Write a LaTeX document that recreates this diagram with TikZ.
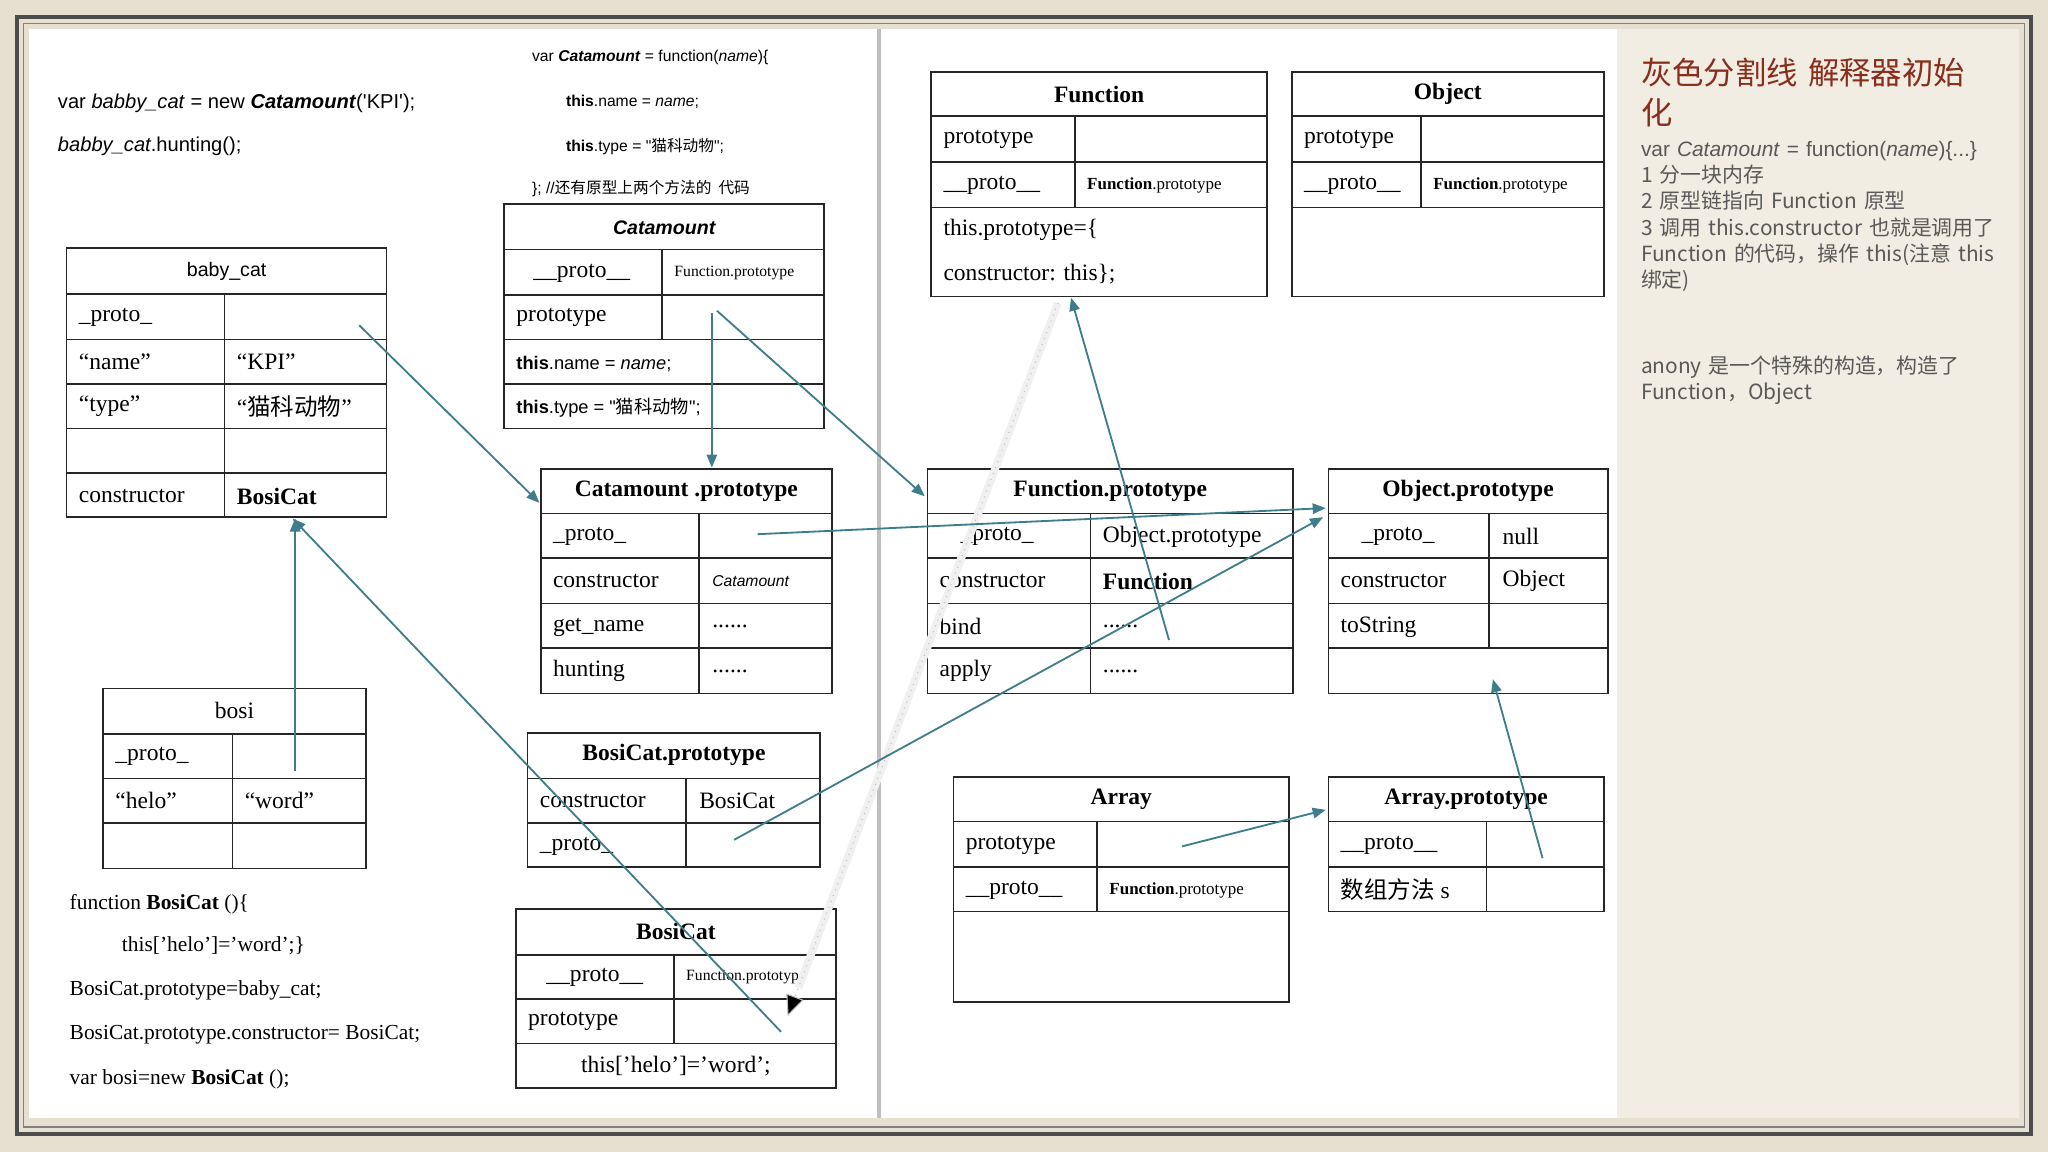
\documentclass[tikz,border=0pt]{standalone}
\usepackage{fontspec}
\setmainfont{Liberation Serif}
\newfontfamily\cjk{Noto Sans CJK SC}
\newfontfamily\sans{Liberation Sans}
\usetikzlibrary{arrows.meta,calc}
\definecolor{teal}{HTML}{3E7E8C}
\definecolor{bg}{HTML}{E6E0D0}
\definecolor{panel}{HTML}{F2EDE2}
\definecolor{ttl}{HTML}{8A2E1C}
\tikzset{
 tb/.style={draw=black!85,line width=0.6pt},
 c/.style={font=\fontsize{9}{10}\selectfont,inner sep=0pt,anchor=west},
 h/.style={font=\fontsize{9}{10}\selectfont\bfseries,inner sep=0pt},
 sm/.style={font=\fontsize{6}{7}\selectfont,inner sep=0pt,anchor=west},
 code/.style={font=\sans\fontsize{7.7}{9}\selectfont,inner sep=0pt,anchor=west},
 code2/.style={font=\fontsize{8.2}{9}\selectfont,inner sep=0pt,anchor=west},
 ar/.style={teal,line width=0.7pt,-{Triangle[length=5pt,width=4pt]}},
 note/.style={font=\cjk\fontsize{8}{10}\selectfont,inner sep=0pt,anchor=north west,text=black!65,text width=140pt,align=left},
}
\newcommand\grid[3]{% x1,x2,list of y
 \foreach \yy in {#3}{\draw[tb] (#1,\yy)--(#2,\yy);}}
\begin{document}
\begin{tikzpicture}[x=0.5pt,y=-0.5pt]
\useasboundingbox (0,0) rectangle (1568,882);
\fill[bg] (0,0) rectangle (1568,882);
\draw[black!70,line width=1.5pt] (13,13) rectangle (1555,868);
\draw[black!50,line width=0.6pt] (18,18) rectangle (1550,863);
\fill[white] (22,22) rectangle (1238,856);
\fill[panel] (1238,22) rectangle (1546,856);
\draw[black!25,line width=1.5pt] (673,22)--(673,856);

% ---- code top-left
\node[code] (c1) at (44,79) {var \textit{babby\_cat} = new \textbf{\textit{Catamount}}('KPI');};
\node[code] (c2) at (44,112) {\textit{babby\_cat}.hunting();};
\node[code,font=\sans\fontsize{6}{7}\selectfont] (c3) at (407,44) {var \textbf{\textit{Catamount}} = function(\textit{name})\{};
\node[code,font=\sans\fontsize{6}{7}\selectfont] (c4) at (433,78) {\textbf{this}.name = \textit{name};};
\node[code,font=\sans\fontsize{6}{7}\selectfont] (c5) at (433,112) {\textbf{this}.type = "{\cjk 猫科动物}";};
\node[code,font=\sans\fontsize{6}{7}\selectfont] (c6) at (407,144) {\}; //{\cjk 还有原型上两个方法的\ \ 代码}};

% ---- baby_cat
\draw[tb] (51,190) rectangle (296,396);
\grid{51}{296}{225,260,294,328,362}
\draw[tb] (172,225)--(172,396);
\node[h,font=\sans\fontsize{7.5}{9}\selectfont] (bch) at (173.5,208) {baby\_cat};
\node[c] (bc1) at (60,243) {\_proto\_};
\node[c] at (60,277) {“name”}; \node[c] at (181,277) {“KPI”};
\node[c] at (60,311) {“type”}; \node[c] at (181,311) {“{\cjk 猫科动物}”};
\node[c] at (60,380) {constructor}; \node[c,font=\fontsize{9}{10}\selectfont\bfseries] (bcc) at (181,380) {BosiCat};
\coordinate (bcb) at (226,397);
\coordinate (bcb2) at (224,397);
\coordinate (bcp) at (275,249);

% ---- Catamount
\draw[tb] (386,156) rectangle (631,328);
\grid{386}{631}{191,226,260,294}
\draw[tb] (507,191)--(507,260);
\node[h,font=\sans\fontsize{7.5}{9}\selectfont\bfseries\itshape] (cth) at (508.5,174) {Catamount};
\node[c] at (408,209) {\_\_proto\_\_}; \node[sm] at (516,209) {Function.prototype};
\node[c] at (395,243) {prototype};
\node[code,font=\sans\fontsize{7}{8}\selectfont] at (395,279) {\textbf{this}.name = \textit{name};};
\node[code,font=\sans\fontsize{7}{8}\selectfont] at (395,312) {\textbf{this}.type = "{\cjk 猫科动物}";};
\coordinate (ctp) at (545,240);
\coordinate (ctp2) at (549,238);

% ---- Catamount.prototype
\draw[tb] (414,359) rectangle (637,531);
\grid{414}{637}{393,427,462,496}
\draw[tb] (535,393)--(535,531);
\node[h] (cph) at (525.5,376) {Catamount .prototype};
\node[c] at (423,411) {\_proto\_};
\node[c] at (423,445) {constructor}; \node[sm,font=\sans\fontsize{6}{7}\selectfont\itshape] at (545,445) {Catamount};
\node[c] at (423,480) {get\_name}; \node[c] at (545,480) {......};
\node[c] at (423,514) {hunting}; \node[c] at (545,514) {......};
\coordinate (cpl) at (413,385);
\coordinate (cpt) at (545,358);
\coordinate (cpp) at (580,409);

% ---- bosi
\draw[tb] (79,527) rectangle (280,665);
\grid{79}{280}{562,596,630}
\draw[tb] (178,562)--(178,665);
\node[h,font=\fontsize{9}{10}\selectfont] (bsh) at (179.5,544) {bosi};
\node[c] at (88,579) {\_proto\_};
\node[c] at (88,613) {“helo”}; \node[c] at (187,613) {“word”};
\coordinate (bsp) at (226,590);

% ---- code bottom-left
\node[code2] at (53,692) {function \textbf{BosiCat} ()\{};
\node[code2] at (93,724) {this['helo']='word';\}};
\node[code2] at (53,758) {BosiCat.prototype=baby\_cat;};
\node[code2] at (53,792) {BosiCat.prototype.constructor= BosiCat;};
\node[code2] at (53,826) {var bosi=new \textbf{BosiCat} ();};

% ---- BosiCat.prototype
\draw[tb] (404,561) rectangle (628,664);
\grid{404}{628}{596,630}
\draw[tb] (525,596)--(525,664);
\node[h] (bpp) at (516,578) {BosiCat.prototype};
\node[c] at (413,613) {constructor}; \node[c] at (535,613) {BosiCat};
\node[c] at (413,648) {\_proto\_};
\coordinate (bpq) at (562,643);

% ---- BosiCat
\draw[tb] (395,696) rectangle (640,833);
\grid{395}{640}{731,765,799}
\draw[tb] (516,731)--(516,799);
\node[h] (bsc) at (517.5,713) {BosiCat};
\node[c] at (418,748) {\_\_proto\_\_}; \node[sm] at (525,748) {Function.prototype};
\node[c] at (404,782) {prototype};
\node[c,anchor=center] at (517.5,816) {this['helo']='word';};
\coordinate (bsq) at (598,790);

% ---- Function
\draw[tb] (713,55) rectangle (970,227);
\grid{713}{970}{89,124,159}
\draw[tb] (823,89)--(823,159);
\node[h] (fnh) at (841.5,72) {Function};
\node[c] at (722,107) {prototype};
\node[c] at (722,142) {\_\_proto\_\_}; \node[sm,font=\fontsize{6.5}{8}\selectfont] at (832,142) {\textbf{Function}.prototype};
\node[c] at (722,176) {this.prototype=\{};
\node[c] at (722,210) {constructor: this\};};
\coordinate (fnb) at (820,228);

% ---- Object
\draw[tb] (989,55) rectangle (1228,227);
\grid{989}{1228}{89,124,159}
\draw[tb] (1088,89)--(1088,159);
\node[h] (obh) at (1108.5,72) {Object};
\node[c] at (998,107) {prototype};
\node[c] at (998,142) {\_\_proto\_\_}; \node[sm,font=\fontsize{6.5}{8}\selectfont] at (1097,142) {\textbf{Function}.prototype};

% ---- Function.prototype
\draw[tb] (710,359) rectangle (990,531);
\grid{710}{990}{393,427,462,496}
\draw[tb] (835,393)--(835,531);
\node[h] (fph) at (850,376) {Function.prototype};
\node[c] at (735,411) {\_proto\_}; \node[c] at (844,411) {Object.prototype};
\node[c] at (719,445) {constructor}; \node[c,font=\fontsize{9}{10}\selectfont\bfseries] at (844,445) {Function};
\node[c] at (719,480) {bind}; \node[c] at (844,480) {......};
\node[c] at (719,514) {apply}; \node[c] at (844,514) {......};
\coordinate (fpl) at (708,380);
\coordinate (fpq) at (895,490);

% ---- Object.prototype
\draw[tb] (1017,359) rectangle (1231,531);
\grid{1017}{1231}{393,427,462,496}
\draw[tb] (1140,393)--(1140,496);
\node[h] (oph) at (1124,376) {Object.prototype};
\node[c] at (1042,411) {\_proto\_}; \node[c] at (1150,411) {null};
\node[c] at (1026,445) {constructor}; \node[c] at (1150,445) {Object};
\node[c] at (1026,480) {toString};
\coordinate (opl) at (1015,389);
\coordinate (opl2) at (1013,396);
\coordinate (opb) at (1143,520);

% ---- Array
\draw[tb] (730,595) rectangle (987,767);
\grid{730}{987}{629,664,698}
\draw[tb] (840,629)--(840,698);
\node[h] (arh) at (858.5,612) {Array};
\node[c] at (739,647) {prototype};
\node[c] at (739,682) {\_\_proto\_\_}; \node[sm,font=\fontsize{6.5}{8}\selectfont] at (849,682) {\textbf{Function}.prototype};
\coordinate (arp) at (905,648);

% ---- Array.prototype
\draw[tb] (1017,595) rectangle (1228,698);
\grid{1017}{1228}{629,664}
\draw[tb] (1138,629)--(1138,698);
\node[h] (aph) at (1122.5,612) {Array.prototype};
\node[c] at (1026,647) {\_\_proto\_\_};
\node[c] at (1026,681) {{\cjk 数组方法} s};
\coordinate (apl) at (1015,620);
\coordinate (apq) at (1181,657);

% ---- faint shadow arrow
\coordinate (sh1) at (810,232);
\coordinate (sh2) at (603,778);
\draw[black!6,line width=3pt] (sh1)--($(sh1)!0.96!(sh2)$);
\draw[black!25,line width=0.4pt,dotted,-{Triangle[length=8pt,width=7pt,fill=black]}] (sh1)--(sh2);

% ---- arrows
\draw[ar] (bcp)--(cpl);
\draw[ar] (ctp)--(cpt);
\draw[ar] (ctp2)--(fpl);
\draw[ar] (cpp)--(opl);
\draw[ar] (bsp)--(bcb);
\draw[ar] (bsq)--(bcb2);
\draw[ar] (bpq)--(opl2);
\draw[ar] (fpq)--(fnb);
\draw[ar] (arp)--(apl);
\draw[ar] (apq)--(opb);

% ---- right panel
\node[note,font=\cjk\fontsize{12}{15.5}\selectfont,text=ttl,text width=138pt] (t1) at (1256,44) {灰色分割线 解释器初始\\化};
\node[note] (t2) at (1256,108) {{\sans var \textit{Catamount} = function(\textit{name})\{...\}}\\1 分一块内存\\2 原型链指向 Function 原型\\3 调用 this.constructor 也就是调用了 Function 的代码，操作 this(注意 this 绑定)};
\node[note] (t3) at (1256,272) {anony 是一个特殊的构造，构造了 Function，Object};
\end{tikzpicture}
\end{document}
